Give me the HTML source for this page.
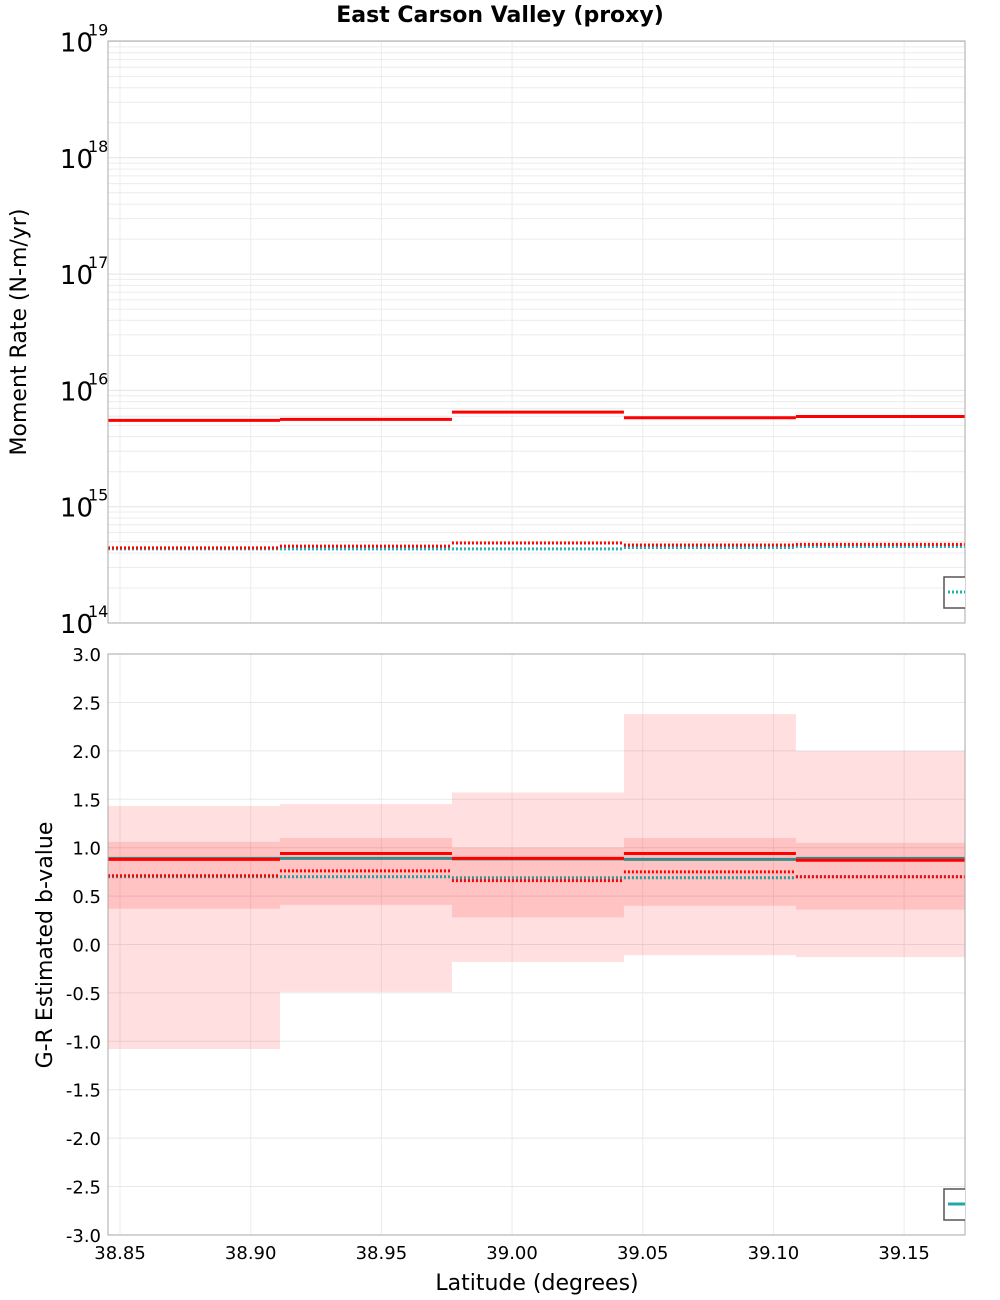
<!DOCTYPE html>
<html><head><meta charset="utf-8"><style>
body{margin:0;background:#fff}
svg{display:block;font-family:"DejaVu Sans","Liberation Sans",sans-serif}
</style></head><body>
<svg id="chart" width="1000" height="1300" viewBox="0 0 1000 1300">
<defs><clipPath id="c1"><rect x="108" y="41" width="857" height="582"/></clipPath>
<clipPath id="c2"><rect x="108" y="654" width="857" height="581"/></clipPath></defs>
<text x="500" y="22" text-anchor="middle" font-size="22" font-weight="bold">East Carson Valley (proxy)</text>
<g id="topPanel"></g>
<g id="botPanel"></g>
<text transform="translate(26,332) rotate(-90)" text-anchor="middle" font-size="22">Moment Rate (N-m/yr)</text>
<text transform="translate(52,945) rotate(-90)" text-anchor="middle" font-size="22">G-R Estimated b-value</text>
<text x="537" y="1290" text-anchor="middle" font-size="22">Latitude (degrees)</text>
</svg>
<script>
const binEdges=[38.8454,38.9112,38.977,39.0428,39.1086,39.1744];
const xTicks=[38.85,38.90,38.95,39.00,39.05,39.10,39.15];
const momentRed=[5.52e15,5.64e15,6.5e15,5.82e15,5.96e15];
const momentRedDotted=[4.43e14,4.58e14,4.87e14,4.68e14,4.74e14];
const momentTealDotted=[4.34e14,4.34e14,4.34e14,4.46e14,4.55e14];
const bOuterHi=[1.43,1.45,1.57,2.38,2.0];
const bOuterLo=[-1.08,-0.49,-0.18,-0.11,-0.13];
const bInnerHi=[1.06,1.10,1.0,1.10,1.05];
const bInnerLo=[0.37,0.41,0.28,0.40,0.36];
const bRed=[0.88,0.94,0.89,0.94,0.87];
const bTeal=[0.89,0.89,0.885,0.88,0.89];
const bRedDotted=[0.71,0.76,0.66,0.75,0.70];
const bTealDotted=[0.70,0.70,0.69,0.69,0.70];
const yTicksB=[3.0,2.5,2.0,1.5,1.0,0.5,0.0,-0.5,-1.0,-1.5,-2.0,-2.5,-3.0];
const decades=[14,15,16,17,18,19];

const NS="http://www.w3.org/2000/svg";
const X0=108,X1=965,XMIN=38.8454,XMAX=39.1733;
const xs=v=>X0+(v-XMIN)/(XMAX-XMIN)*(X1-X0);
const yT=v=>623-(Math.log10(v)-14)*116.3;
const yB=v=>944.5-v*96.8;
function el(p,t,a){const e=document.createElementNS(NS,t);for(const k in a)e.setAttribute(k,a[k]);p.appendChild(e);return e;}
const topG=document.getElementById('topPanel'),botG=document.getElementById('botPanel');

for(let d=14;d<19;d++)for(let m=2;m<10;m++){const g=el(topG,'line',{x1:X0,x2:X1,y1:yT(m*Math.pow(10,d)),y2:yT(m*Math.pow(10,d)),stroke:'#ececec','stroke-width':1});

}
decades.forEach(d=>{const g=el(topG,'line',{x1:X0,x2:X1,y1:yT(Math.pow(10,d)),y2:yT(Math.pow(10,d)),stroke:'#e4e4e4'});


const t=el(topG,'text',{x:93,y:yT(Math.pow(10,d))+10,'text-anchor':'end','font-size':26});t.textContent='10';


const s=el(topG,'text',{x:88,y:yT(Math.pow(10,d))-6,'font-size':16});s.textContent=String(d);

});
xTicks.forEach(v=>{[[41,623],[654,1235]].forEach(r=>{const g=el(topG,'line',{x1:xs(v),x2:xs(v),y1:r[0],y2:r[1],stroke:'#ececec'});

});
const t=el(botG,'text',{x:xs(v),y:1259,'text-anchor':'middle','font-size':18});t.textContent=v.toFixed(2);

});
yTicksB.forEach(v=>{const g=el(botG,'line',{x1:X0,x2:X1,y1:yB(v),y2:yB(v),stroke:'#e8e8e8'});


const t=el(botG,'text',{x:101,y:yB(v)+7,'text-anchor':'end','font-size':18});t.textContent=v.toFixed(1);

});

function steps(p,arr,yf,color,dash,name,clip){const g=el(p,'g',{'clip-path':clip});
arr.forEach((v,i)=>{const l=el(g,'line',{x1:xs(binEdges[i]),x2:xs(binEdges[i+1]),y1:yf(v),y2:yf(v),stroke:color,'stroke-width':3});
if(dash)l.setAttribute('stroke-dasharray','2,2');

});}
function bands(lo,hi,name){const g=el(botG,'g',{'clip-path':'url(#c2)'});
lo.forEach((v,i)=>{const r=el(g,'rect',{x:xs(binEdges[i]),width:xs(binEdges[i+1])-xs(binEdges[i]),y:yB(hi[i]),height:yB(v)-yB(hi[i]),fill:'rgba(255,0,0,0.125)'});

});}
steps(topG,momentTealDotted,yT,'#20b2b2',true,'teal-dotted-step','url(#c1)');
steps(topG,momentRedDotted,yT,'#ff0000',true,'red-dotted-step','url(#c1)');
steps(topG,momentRed,yT,'#ff0000',false,'red-solid-step','url(#c1)');
bands(bOuterLo,bOuterHi,'outer-band');
bands(bInnerLo,bInnerHi,'inner-band');
steps(botG,bTealDotted,yB,'#2a9a9a',true,'teal-dotted-step','url(#c2)');
steps(botG,bRedDotted,yB,'#ff0000',true,'red-dotted-step','url(#c2)');
steps(botG,bTeal,yB,'#3a8a8a',false,'teal-solid-step','url(#c2)');
steps(botG,bRed,yB,'#ff0000',false,'red-solid-step','url(#c2)');

[[41,623],[654,1235]].forEach((r,i)=>{const f=el(i?botG:topG,'rect',{x:X0,y:r[0],width:X1-X0,height:r[1]-r[0],fill:'none',stroke:'#aaa'});

});
const lg1=el(topG,'g',{'clip-path':'url(#c1)'});


el(lg1,'rect',{x:944,y:577,width:40,height:31,fill:'#fff',stroke:'#555','stroke-width':1.5});
el(lg1,'line',{x1:948,x2:965,y1:592,y2:592,stroke:'#20b2b2','stroke-width':3,'stroke-dasharray':'2,2'});
const lg2=el(botG,'g',{'clip-path':'url(#c2)'});


el(lg2,'rect',{x:944,y:1189,width:40,height:31,fill:'#fff',stroke:'#555','stroke-width':1.5});
el(lg2,'line',{x1:948,x2:965,y1:1204,y2:1204,stroke:'#20a8a8','stroke-width':3});
</script>
</body></html>
